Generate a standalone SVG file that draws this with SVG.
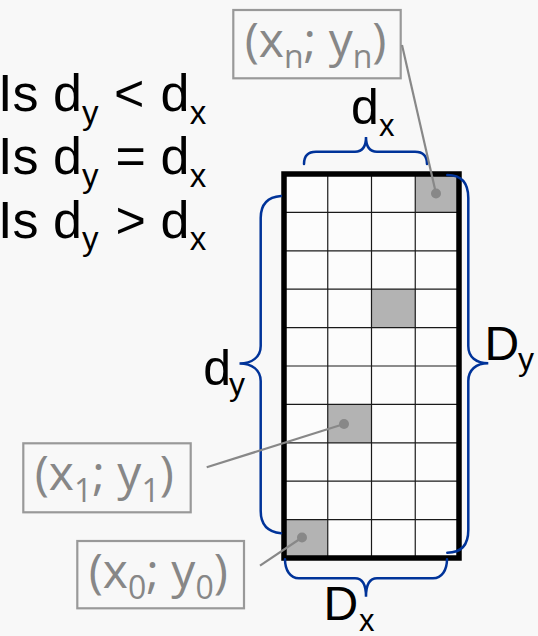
<svg xmlns="http://www.w3.org/2000/svg" width="538" height="636" viewBox="0 0 538 636">
<defs>
<style>
.blk{font-family:"Liberation Sans",Arial,sans-serif;fill:#000}
.gry{font-family:"Open Sans","Noto Sans",sans-serif;fill:#878787;font-size:48px}
.sub{font-size:32px}
.box{fill:none;stroke:#999;stroke-width:2.2}
.brace{fill:none;stroke:#003399;stroke-width:2.5;stroke-linecap:round}
.conn{stroke:#888;stroke-width:2.2;fill:none}
.dot{fill:#888}
.gl{stroke:#1a1a1a;stroke-width:1.2}
.hl{fill:#b3b3b3}
</style>
</defs>
<rect width="538" height="636" fill="#f8f8f8"/>

<g id="question" class="blk" font-size="52">
<text y="110.7"><tspan x="-2">Is d</tspan><tspan x="82" y="123.5" font-size="33">y</tspan><tspan x="114" y="110.7">&lt;</tspan><tspan x="160.5">d</tspan><tspan x="189.7" y="123.5" font-size="33">x</tspan></text>
<text y="174.3"><tspan x="-2">Is d</tspan><tspan x="82" y="187" font-size="33">y</tspan><tspan x="115.5" y="174.3">=</tspan><tspan x="160.5">d</tspan><tspan x="189.7" y="187" font-size="33">x</tspan></text>
<text y="237.7"><tspan x="-2">Is d</tspan><tspan x="82" y="250.4" font-size="33">y</tspan><tspan x="115.5" y="237.7">&gt;</tspan><tspan x="160.5">d</tspan><tspan x="189.7" y="250.4" font-size="33">x</tspan></text>
</g>

<g id="grid">
<rect x="284" y="174" width="175" height="384" fill="#fcfcfc"/>
<rect class="hl" x="415.25" y="174" width="43.75" height="38.4"/>
<rect class="hl" x="371.5" y="289.2" width="43.75" height="38.4"/>
<rect class="hl" x="327.75" y="404.4" width="43.75" height="38.4"/>
<rect class="hl" x="284" y="519.6" width="43.75" height="38.4"/>
<g class="gl">
<line x1="327.75" y1="174" x2="327.75" y2="558"/>
<line x1="371.5" y1="174" x2="371.5" y2="558"/>
<line x1="415.25" y1="174" x2="415.25" y2="558"/>
<line x1="284" y1="212.4" x2="459" y2="212.4"/>
<line x1="284" y1="250.8" x2="459" y2="250.8"/>
<line x1="284" y1="289.2" x2="459" y2="289.2"/>
<line x1="284" y1="327.6" x2="459" y2="327.6"/>
<line x1="284" y1="366" x2="459" y2="366"/>
<line x1="284" y1="404.4" x2="459" y2="404.4"/>
<line x1="284" y1="442.8" x2="459" y2="442.8"/>
<line x1="284" y1="481.2" x2="459" y2="481.2"/>
<line x1="284" y1="519.6" x2="459" y2="519.6"/>
</g>
<rect x="284" y="174" width="175" height="384" fill="none" stroke="#000" stroke-width="5.5"/>
</g>

<g id="brace-dx">
<path class="brace" d="M304,164 C304,156 308,151.7 316,151.7 L355,151.7 C362,151.7 366,147 366,137 C366,147 370,151.7 377,151.7 L415,151.7 C423,151.7 427,156 427,164"/>
<text class="blk" font-size="50" y="124.3"><tspan x="351">d</tspan><tspan x="379" y="135.7" font-size="31">x</tspan></text>
</g>

<g id="brace-Dx">
<path class="brace" d="M285,559.3 C285,570 290,578.3 299,578.3 L355,578.3 C362,578.3 366,584 366,596.7 C366,584 370,578.3 377,578.3 L433,578.3 C442,578.3 447,570 447,559.3"/>
<text class="blk" font-size="48" y="620"><tspan x="323.5">D</tspan><tspan x="359" y="631" font-size="31">x</tspan></text>
</g>

<g id="brace-dy">
<path class="brace" d="M281,196 C268,197 260.7,204 260.7,218 L260.7,346 C260.7,357 252,363.5 239.5,363.5 C252,363.5 260.7,370 260.7,381 L260.7,511 C260.7,525 268,532 281,533.3"/>
<text class="blk" font-size="50" y="385"><tspan x="203.2">d</tspan><tspan x="229" y="394.7" font-size="32">y</tspan></text>
</g>

<g id="brace-Dy">
<path class="brace" d="M447.3,175 C461,175 468.3,183 468.3,198 L468.3,346 C468.3,357 476,363.3 488.3,363.3 C476,363.3 468.3,370 468.3,381 L468.3,530 C468.3,545 461,552.7 447.3,552.7"/>
<text class="blk" font-size="48" y="360"><tspan x="484.5">D</tspan><tspan x="518" y="370" font-size="32">y</tspan></text>
</g>

<g id="label-n">
<rect class="box" x="233.3" y="10" width="167.4" height="68.3"/>
<text class="gry" y="56.7"><tspan x="244.7">(x</tspan><tspan class="sub" y="68.3">n</tspan><tspan y="56.7">; y</tspan><tspan class="sub" y="68.3">n</tspan><tspan y="56.7">)</tspan></text>
</g>

<g id="label-1">
<rect class="box" x="23.3" y="443.3" width="167.4" height="69"/>
<text class="gry" y="490"><tspan x="34.7">(x</tspan><tspan class="sub" y="501.6">1</tspan><tspan y="490">; y</tspan><tspan class="sub" y="501.6">1</tspan><tspan y="490">)</tspan></text>
</g>

<g id="label-0">
<rect class="box" x="77.3" y="541" width="166.7" height="67.3"/>
<text class="gry" y="587.7"><tspan x="88.7">(x</tspan><tspan class="sub" y="599.3">0</tspan><tspan y="587.7">; y</tspan><tspan class="sub" y="599.3">0</tspan><tspan y="587.7">)</tspan></text>
</g>

<g id="connectors">
<line class="conn" x1="402" y1="45" x2="436" y2="193.5"/>
<line class="conn" x1="206.7" y1="467.3" x2="344" y2="424"/>
<line class="conn" x1="260" y1="565.7" x2="302" y2="537.5"/>
<circle class="dot" cx="436" cy="193.5" r="5"/>
<circle class="dot" cx="344" cy="424" r="5"/>
<circle class="dot" cx="302" cy="537.5" r="5"/>
</g>
</svg>
